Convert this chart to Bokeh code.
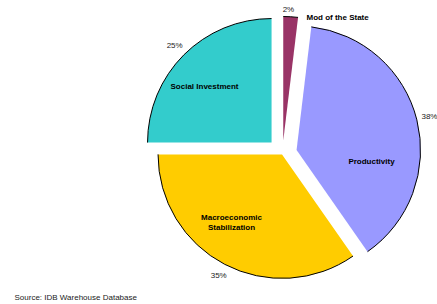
import numpy as np
from bokeh.plotting import figure
from bokeh.models import Range1d, ColumnDataSource
from bokeh.core.properties import value
from bokeh.embed import file_html
from bokeh.resources import INLINE

# ---- data ----
categories = ["Mod of the State", "Productivity", "Macroeconomic Stabilization", "Social Investment"]
shares = [1.9, 38.4, 34.7, 25.0]
pct_labels = [f"{round(s)}%" for s in shares]
source_note = "Source: IDB Warehouse Database"

# ---- styling / layout ----
colors = ["#993366", "#9999FF", "#FFCC00", "#33CCCC"]
explode = [13.0, 14.5, 1.0, 15.5]
W, H = 437, 304
X0, Y0 = 0, 0           # page coordinate shown at the figure's top-left
CX, CY = 282, 153       # pie centre (page coords)
R = 124
FONT = value("Liberation Sans")

frac = np.array(shares) / sum(shares)
cum = np.concatenate([[0.0], np.cumsum(frac)])
start = np.pi / 2 - 2 * np.pi * cum[:-1]
end = np.pi / 2 - 2 * np.pi * cum[1:]
mid = (start + end) / 2
ex = np.array(explode)
xs = CX + ex * np.cos(mid)
ys = -CY + ex * np.sin(mid)

src = ColumnDataSource(dict(x=xs, y=ys, start=start, end=end, color=colors, cat=categories))

p = figure(width=W, height=H, output_backend="svg", toolbar_location=None,
           x_range=Range1d(X0, X0 + W), y_range=Range1d(-(Y0 + H), -Y0),
           x_axis_location=None, y_axis_location=None, min_border=0)
p.grid.visible = False
p.outline_line_color = None
p.background_fill_color = "white"
p.border_fill_color = "white"

p.wedge(x="x", y="y", radius=R, start_angle="start", end_angle="end", direction="clock",
        fill_color="color", line_color=None, source=src)
p.arc(x="x", y="y", radius=R, start_angle="start", end_angle="end", direction="clock",
      line_color="black", line_width=1, source=src)

# percentage labels outside each slice
lr = 137
lx = np.minimum(xs + lr * np.cos(mid), X0 + W - 8)
ly = np.minimum(ys + lr * np.sin(mid), -(Y0 + 9))
lx[0] -= 3
p.text(x=lx, y=ly, text=pct_labels, text_font=FONT, text_font_size="8px",
       text_color="#222222", text_align="center", text_baseline="middle")

# category labels
disp = [c.replace("Macroeconomic ", "Macroeconomic\n") for c in categories]
cat_pos = [(306, 17), (371, 161), (231, 222), (204, 86)]
aligns = ["left", "center", "center", "center"]
for t, (px, py), a in zip(disp, cat_pos, aligns):
    p.text(x=[px], y=[-py], text=[t], text_font=FONT, text_font_size="8px",
           text_font_style="bold", text_color="black", text_align=a,
           text_baseline="middle", text_line_height=1.2)

p.text(x=[14], y=[-297], text=[source_note], text_font=FONT, text_font_size="8px",
       text_color="#222222", text_align="left", text_baseline="middle")

open("out.html", "w").write(file_html(p, INLINE))
